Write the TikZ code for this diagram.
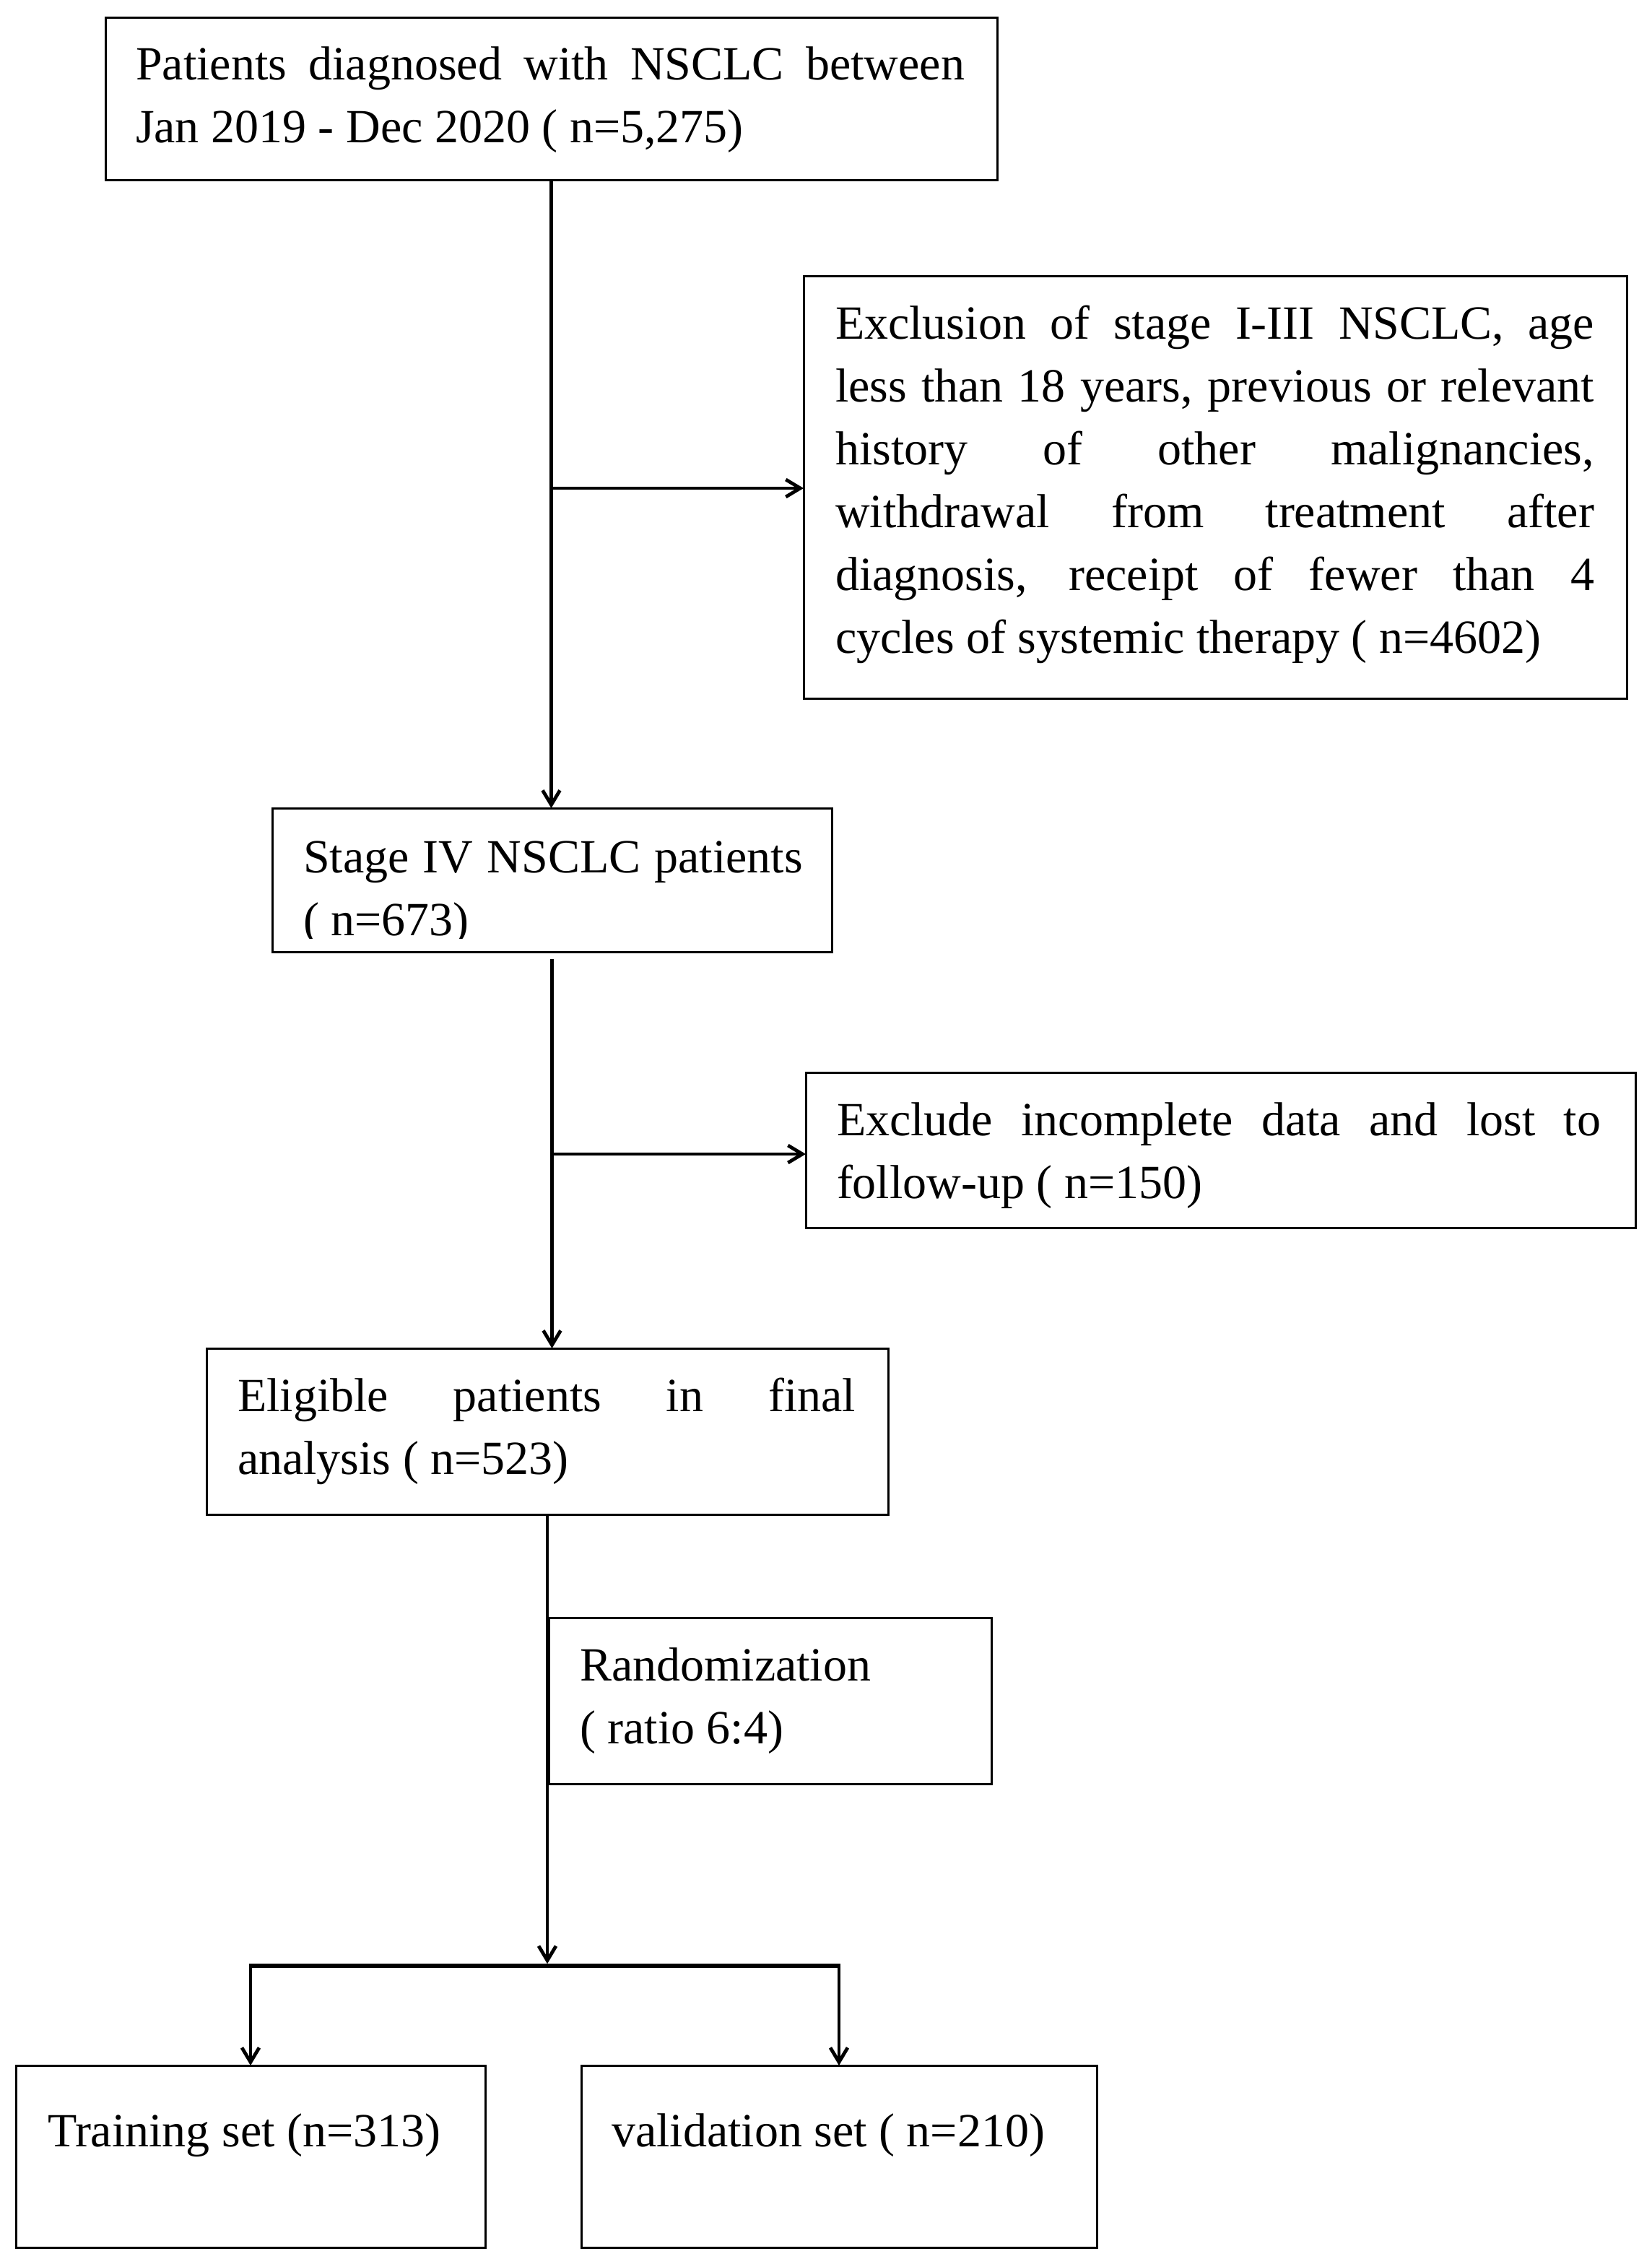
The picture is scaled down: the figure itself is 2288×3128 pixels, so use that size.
\documentclass[tikz,border=0pt]{standalone}
\usepackage{fontspec}
\setmainfont{Liberation Serif}
\usetikzlibrary{arrows.meta,fit}
\hyphenpenalty=10000
\exhyphenpenalty=10000
\tolerance=10000
\begin{document}
\begin{tikzpicture}[x=0.25pt,y=-0.25pt,
  box/.style={draw, line width=0.75pt, inner sep=0pt, outer sep=0pt},
  txt/.style={inner sep=0pt, outer sep=0pt, anchor=base west,
    font=\fontsize{16.5}{21.75}\selectfont},
  jtxt/.style={txt, align=justify},
  conn/.style={line width=1.2pt},
  arr/.style={conn, -{Straight Barb[length=5pt,width=6pt]}},
]
\useasboundingbox (0,0) rectangle (2288,3128);

% boxes
\node[box, fit={(146,24) (1381,249)}] (b1) {};
\node[box, fit={(1113,382) (2253,967)}] (b2) {};
\node[box, fit={(377,1119) (1152,1318)}] (b3) {};
\node[box, fit={(1116,1485) (2265,1700)}] (b4) {};
\node[box, fit={(286,1867) (1230,2097)}] (b5) {};
\node[box, fit={(760,2240) (1373,2470)}] (b6) {};
\node[box, fit={(22,2860) (672,3112)}] (b7) {};
\node[box, fit={(805,2860) (1519,3112)}] (b8) {};

% texts
\node[jtxt, text width=287pt] (t1) at (188,110)
  {Patients diagnosed with NSCLC between\linebreak Jan 2019 - Dec 2020 ( n=5,275)};
\node[jtxt, text width=262.75pt] (t2) at (1157,469)
  {Exclusion of stage I-III NSCLC, age\linebreak
   less than 18 years, previous or relevant\linebreak
   history of other malignancies,\linebreak
   withdrawal from treatment after\linebreak
   diagnosis, receipt of fewer than 4\linebreak
   cycles of systemic therapy ( n=4602)};
\begin{scope}
  \clip (377,1119) rectangle (1152,1299);
  \node[jtxt, text width=173pt] (t3) at (420,1208)
    {Stage IV NSCLC patients\linebreak ( n=673)};
\end{scope}
\node[jtxt, text width=264.5pt] (t4) at (1159,1572)
  {Exclude incomplete data and lost to\linebreak follow-up ( n=150)};
\node[jtxt, text width=214pt] (t5) at (329,1954)
  {Eligible patients in final\linebreak analysis ( n=523)};
\node[txt, align=left] (t6) at (803,2414) {Randomization\\{}( ratio 6:4)};
\node[txt] (t7) at (66,2972) {Training set (n=313)};
\node[txt] (t8) at (847,2972) {validation set ( n=210)};

% connectors
\draw[arr] (b1.south) -- (b1.south |- b3.north);
\coordinate (j1) at (763.5,676);
\draw[arr] (j1) -- (j1 -| b2.west);

\coordinate (s2) at (764.5,1328);
\draw[arr] (s2) -- (s2 |- b5.north);
\coordinate (j2) at (764.5,1598);
\draw[arr] (j2) -- (j2 -| b4.west);

\coordinate (bl) at (347,2722);
\coordinate (br) at (1162,2722);
\draw[line width=1.5pt] ([xshift=-0.4pt]bl) -- ([xshift=0.4pt]br);
\draw[arr, shorten >=0.7pt] (b5.south) -- (b5.south |- bl);
\draw[arr] (bl) -- (b7.north);
\draw[arr] (br) -- (b8.north);
\end{tikzpicture}
\end{document}
